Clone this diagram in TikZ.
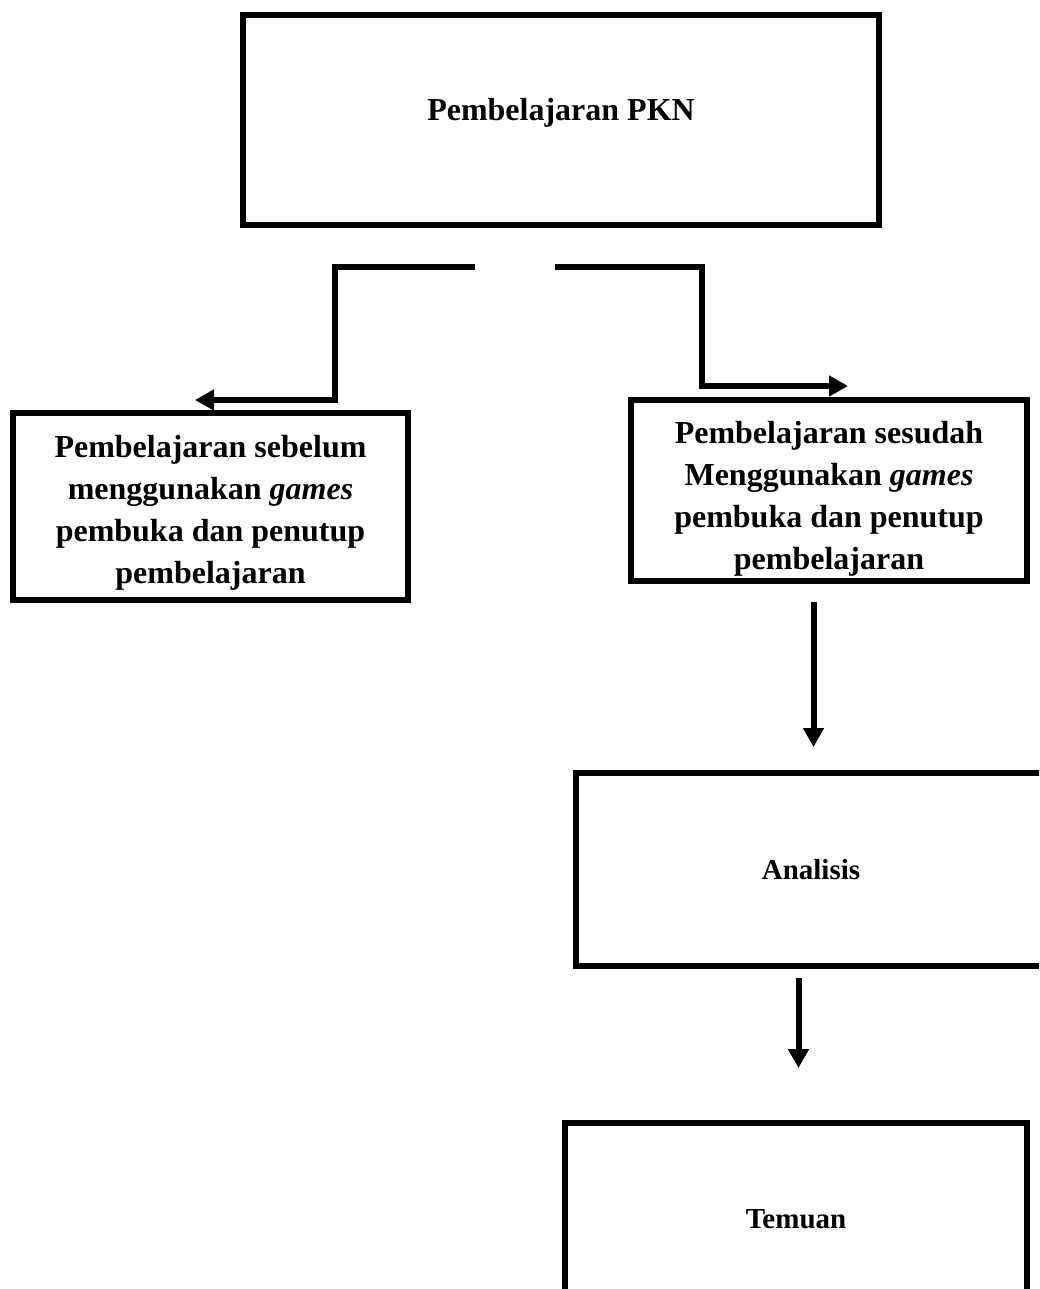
\documentclass[tikz,border=0pt]{standalone}
\usepackage{fontspec}
\setmainfont{Liberation Serif}
\usetikzlibrary{arrows.meta}

\begin{document}
\begin{tikzpicture}[
  x=0.5pt, y=-0.5pt,
  box/.style={draw, line width=3pt, align=center, inner sep=0pt,
              font=\fontsize{16pt}{21pt}\selectfont\bfseries},
  smallbox/.style={box, font=\fontsize{14.5pt}{18pt}\selectfont\bfseries},
  wire/.style={line width=3pt},
  arr/.style={wire, -{Triangle[length=9.5pt, width=10pt]}},
]
\useasboundingbox (0,0) rectangle (1039,1289);
\clip (0,0) rectangle (1039,1289);

% ─── boxes ──────────────────────────────────────────────────────────────────
\node[box, minimum width=318pt, minimum height=105pt,
      text height=11pt, text depth=10.4pt] (pkn) at (561,120)
      {Pembelajaran PKN};

% first-line struts push the text a little below the box centre
\node[box, minimum width=197.5pt, minimum height=93.5pt] (sebelum) at (210.5,506.5)
      {\rule{0pt}{17pt}Pembelajaran sebelum\\ menggunakan \textit{games}\\
       pembuka dan penutup\\ pembelajaran};

\node[box, minimum width=198pt, minimum height=90.5pt] (sesudah) at (829,490.5)
      {\rule{0pt}{19pt}Pembelajaran sesudah\\ Menggunakan \textit{games}\\
       pembuka dan penutup\\ pembelajaran};

\node[smallbox, minimum width=235pt, minimum height=96.5pt] (analisis) at (811,869.5)
      {Analisis};

\node[smallbox, minimum width=231pt, minimum height=96.5pt] (temuan) at (796,1219.5)
      {Temuan};

% ─── connectors ─────────────────────────────────────────────────────────────
\coordinate (lstart) at (475,267);
\coordinate (ltip)   at (195,400);
\coordinate (rstart) at (555,267);
\coordinate (rtip)   at (848,386);
\coordinate (d1) at (813.5,602);
\coordinate (d1tip) at (813.5,747);
\coordinate (d2) at (798.5,978);
\coordinate (d2tip) at (798.5,1068);

\draw[arr] (lstart) -- (335,267) -- (335,400) -- (ltip);
\draw[arr] (rstart) -- (702,267) -- (702,386) -- (rtip);
\draw[arr] (d1) -- (d1tip);
\draw[arr] (d2) -- (d2tip);

\end{tikzpicture}
\end{document}
